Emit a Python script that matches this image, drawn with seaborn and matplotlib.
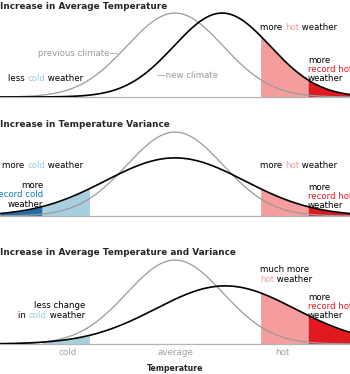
import numpy as np
import pandas as pd
import matplotlib
matplotlib.use("Agg")
import matplotlib.pyplot as plt
import seaborn as sns

# ---------------- data ----------------
titles = ["Increase in Average Temperature",
          "Increase in Temperature Variance",
          "Increase in Average Temperature and Variance"]
prev_mean = [0.0, 0.0, 0.0]
prev_sd = [0.45, 0.45, 0.45]
new_mean = [0.44, 0.0, 0.47]
new_sd = [0.45, 0.65, 0.65]
hot_thr = 0.80
record_hot_thr = 1.24
cold_thr = -0.80
record_cold_thr = -1.24
show_cold = [False, True, True]
show_record_cold = [False, True, False]
tick_pos = [-1.0, 0.0, 1.0]
tick_labels = ["cold", "average", "hot"]
xlabel = "Temperature"

# ---------------- style ----------------
sns.set_style("white")
plt.rcParams['font.family'] = ['DejaVu Sans']

W, H = 350, 374
fig = plt.figure(figsize=(W / 100, H / 100), dpi=100)
fig.patch.set_facecolor("white")

PINK = "#f59c9c"
RED = "#e01a1e"
LBLUE = "#a8cfe0"
DBLUE = "#1f6fad"
TXT_LBLUE = "#9ccbe0"
TXT_DBLUE = "#1f78b8"
GRAYC = "#9a9a9a"
BASE = "#b4b4b4"

def fx(px):
    return px / W

def fy(py):
    return 1 - py / H

XL = 175 / 107.0
PX_PER_DENS = 94.7
baselines = [97, 216, 344]
AX_H = 100

x = np.linspace(-XL, XL, 600)

def pdf(v, m, s):
    return np.exp(-0.5 * ((v - m) / s) ** 2) / (s * np.sqrt(2 * np.pi))

axes = []
for i in range(3):
    b = baselines[i]
    ax = fig.add_axes([0, fy(b), 1, AX_H / H])
    ax.set_xlim(-XL, XL)
    ax.set_ylim(0, AX_H / PX_PER_DENS)
    ax.axis("off")
    yp = pdf(x, prev_mean[i], prev_sd[i])
    yn = pdf(x, new_mean[i], new_sd[i])
    df = pd.DataFrame({"x": x, "prev": yp, "new": yn})
    # shading under the new climate curve
    m = (x >= hot_thr) & (x <= record_hot_thr)
    ax.fill_between(x[m], 0, yn[m], color=PINK, lw=0, zorder=1)
    m = x >= record_hot_thr
    ax.fill_between(x[m], 0, yn[m], color=RED, lw=0, zorder=1)
    if show_cold[i]:
        m = (x <= cold_thr) & (x >= record_cold_thr)
        ax.fill_between(x[m], 0, yn[m], color=LBLUE, lw=0, zorder=1)
    if show_record_cold[i]:
        m = x <= record_cold_thr
        ax.fill_between(x[m], 0, yn[m], color=DBLUE, lw=0, zorder=1)
    ax.axhline(0, color=BASE, lw=0.9, clip_on=False, zorder=2)
    sns.lineplot(data=df, x="x", y="prev", ax=ax, color=GRAYC, lw=0.9, zorder=3)
    sns.lineplot(data=df, x="x", y="new", ax=ax, color="black", lw=1.2, zorder=4)
    ax.set_xlabel("")
    ax.set_ylabel("")
    ax.axis("off")
    axes.append(ax)

renderer = fig.canvas.get_renderer()

def twidth(s, size, weight):
    t = fig.text(0, 0, s, fontsize=size, fontweight=weight)
    w = t.get_window_extent(renderer).width
    t.remove()
    return w

def rich(xp, yp, pieces, ha="left", size=6.25, weight="normal"):
    full = "".join(p for p, _ in pieces)
    total = twidth(full, size, weight)
    x0 = xp if ha == "left" else xp - total
    prefix = ""
    bar = twidth("|", size, weight)
    for txt, col in pieces:
        off = 0 if prefix == "" else twidth(prefix + "|", size, weight) - bar
        fig.text(fx(x0 + off), fy(yp), txt, color=col, fontsize=size,
                 fontweight=weight, va="baseline", ha="left")
        prefix += txt

K = "black"
# titles
for i, yb in enumerate([9, 127, 255]):
    fig.text(fx(0), fy(yb), titles[i], fontsize=6.4, fontweight="bold",
             va="baseline", ha="left")

# panel 1
rich(38, 56, [("previous climate\u2014", GRAYC)])
rich(8, 81, [("less ", K), ("cold", TXT_LBLUE), (" weather", K)])
rich(157, 78, [("\u2014new climate", GRAYC)])
rich(260, 30, [("more ", K), ("hot", PINK), (" weather", K)])
rich(308, 63, [("more", K)])
rich(308, 72, [("record hot", RED)])
rich(308, 81, [("weather", K)])

# panel 2
rich(2, 168, [("more ", K), ("cold", TXT_LBLUE), (" weather", K)])
rich(43, 188, [("more", K)], ha="right")
rich(43, 197, [("record cold", TXT_DBLUE)], ha="right")
rich(43, 207, [("weather", K)], ha="right")
rich(260, 168, [("more ", K), ("hot", PINK), (" weather", K)])
rich(308, 190, [("more", K)])
rich(308, 199, [("record hot", RED)])
rich(308, 208, [("weather", K)])

# panel 3
rich(85, 308, [("less change", K)], ha="right")
rich(85, 318, [("in ", K), ("cold", TXT_LBLUE), (" weather", K)], ha="right")
rich(260, 272, [("much more", K)])
rich(260, 282, [("hot", PINK), (" weather", K)])
rich(308, 300, [("more", K)])
rich(308, 309, [("record hot", RED)])
rich(308, 318, [("weather", K)])

# x ticks of bottom panel
ax3 = axes[2]
for p, lab in zip(tick_pos, tick_labels):
    ax3.text(p, 0, lab, transform=ax3.get_xaxis_transform(), color="#a0a0a0",
             fontsize=6.3, ha="center", va="baseline")
# position tick labels 11 px below baseline
for t in ax3.texts:
    t.set_transform(ax3.get_xaxis_transform() +
                    matplotlib.transforms.ScaledTranslation(0, -11 / 100, fig.dpi_scale_trans))
fig.text(fx(175), fy(371), xlabel, fontsize=5.6, fontweight="bold",
         ha="center", va="baseline")

fig.savefig("out.png", dpi=100, facecolor="white")
